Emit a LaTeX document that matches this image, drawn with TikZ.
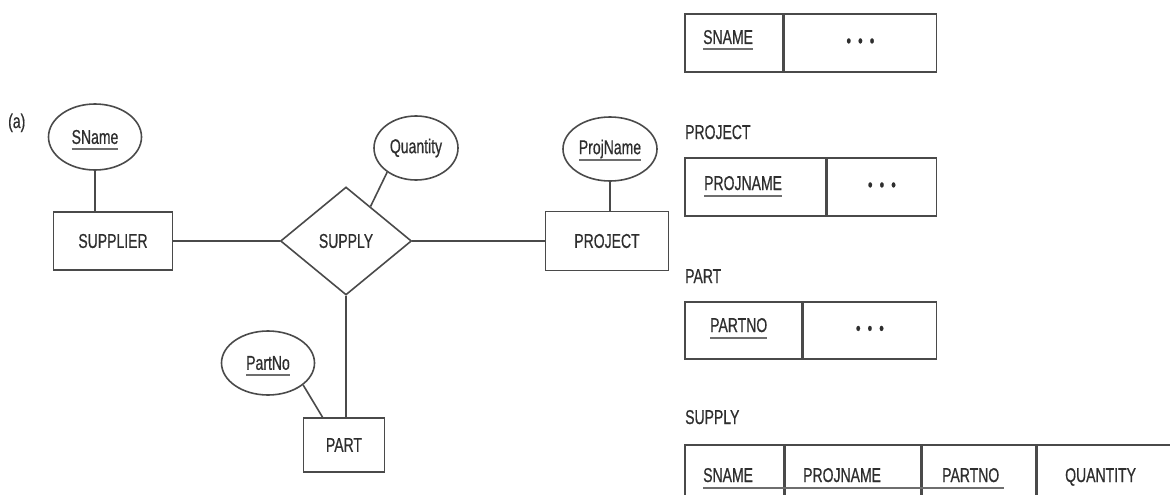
\documentclass[tikz,border=0pt]{standalone}
\usepackage{fontspec}
\setmainfont{Liberation Sans}[FakeStretch=0.7,FakeBold=0.6]
\usetikzlibrary{shapes.geometric,calc}

\definecolor{ink}{HTML}{2E2E2E}
\definecolor{edge}{HTML}{4A4A4A}
\definecolor{keyline}{HTML}{6E6E6E}

% key attribute: text with a grey rule below it
\newcommand\keyattr[1]{\setbox0=\hbox{#1}\rlap{\smash{\color{keyline}\rule[-6.5pt]{\wd0}{2pt}}}\box0}

\begin{document}
\begin{tikzpicture}[x=1pt,y=-1pt,
  every node/.style={font=\fontsize{20}{23}\selectfont, text=ink, inner sep=0pt},
  entity/.style={draw=edge, line width=1.6pt, rectangle, minimum width=119pt, minimum height=58pt},
  attr/.style={draw=edge, line width=1.6pt, ellipse, minimum width=93pt, minimum height=66pt},
  rel/.style={draw=edge, line width=1.6pt, diamond, minimum width=131pt, minimum height=108pt},
  link/.style={draw=edge, line width=1.6pt},
  boldlink/.style={draw=edge, line width=2.8pt},
  cell/.style={draw=edge, line width=1.6pt, rectangle, anchor=north west, minimum height=58pt},
  heading/.style={anchor=base west},
  colname/.style={anchor=base west},
  dots/.style={font=\fontsize{19}{19}\selectfont},
  keyrule/.style={draw=keyline, line width=2pt}]

\useasboundingbox (0,0) rectangle (1170,495);
\clip (0,0) rectangle (1170,495);

% ---------------- ER schema ----------------
\node[anchor=base west] (tag) at (8,128) {(a)};

\node[attr] (sname) at (95,137) {\keyattr{SName}};
\node[entity] (supplier) at (113,241) {SUPPLIER};
\node[rel] (supply) at (346,241) {SUPPLY};
\node[attr, minimum width=84pt, minimum height=64pt] (qty) at (416,148) {Quantity};
\node[entity, minimum width=123pt, minimum height=59pt] (project) at (607,241) {PROJECT};
\node[attr, minimum width=94pt, minimum height=64pt] (projname) at (610,149) {\keyattr{ProjName}};
\node[entity, minimum width=81pt, minimum height=54pt] (part) at (344,445) {PART};
\node[attr, minimum width=93pt, minimum height=64pt] (partno) at (268,363) {\keyattr{PartNo}};

\draw[link] (sname.south) -- (sname.south |- supplier.north);
\draw[boldlink] (supplier) -- (supply);
\draw[link] (supply) -- (project);
\draw[link] (qty.220) -- ($(supply.north)!0.37!(supply.east)$);
\draw[link] (projname.south) -- (projname.south |- project.north);
\draw[link] (supply.south) -- (supply.south |- part.north);
\draw[link] (partno.328) -- ($(part.north west)!0.24!(part.north east)$);

% ---------------- relational tables ----------------
% SUPPLIER
\node[cell, minimum width=98pt] (t1a) at (684,13) {};
\node[cell, minimum width=152pt] (t1b) at (t1a.north east) {};
\node[colname] (t1k) at (703,44) {\keyattr{SNAME}};
\node[dots] (t1d) at (t1b.center) {•\hspace{7pt}•\hspace{7pt}•};

% PROJECT
\node[heading] (hproj) at (685,139) {PROJECT};
\node[cell, minimum width=141pt] (t2a) at (684,157) {};
\node[cell, minimum width=109pt] (t2b) at (t2a.north east) {};
\node[colname] (t2k) at (704,190) {\keyattr{PROJNAME}};
\node[dots] (t2d) at (t2b.center) {•\hspace{7pt}•\hspace{7pt}•};

% PART
\node[heading] (hpart) at (685,283) {PART};
\node[cell, minimum width=117pt, minimum height=57pt] (t3a) at (684,301) {};
\node[cell, minimum width=133pt, minimum height=57pt] (t3b) at (t3a.north east) {};
\node[colname] (t3k) at (710,332) {\keyattr{PARTNO}};
\node[dots] (t3d) at (t3b.center) {•\hspace{7pt}•\hspace{7pt}•};

% SUPPLY
\node[heading] (hsupply) at (685,424) {SUPPLY};
\node[cell, minimum width=99pt, minimum height=80pt] (t4a) at (684,444) {};
\node[cell, minimum width=135pt, minimum height=80pt] (t4b) at (t4a.north east) {};
\node[cell, minimum width=114pt, minimum height=80pt] (t4c) at (t4b.north east) {};
\node[cell, minimum width=150pt, minimum height=80pt] (t4d) at (t4c.north east) {};
\node[colname] (t4k1) at (703,482) {SNAME};
\node[colname] (t4k2) at (803,482) {PROJNAME};
\node[colname] (t4k3) at (942,482) {PARTNO};
\node[colname] (t4k4) at (1065,482) {QUANTITY};
\draw[keyrule] ([yshift=-6pt]t4k1.base west) -- ([yshift=-6pt,xshift=5pt]t4k3.base east);
\end{tikzpicture}
\end{document}
